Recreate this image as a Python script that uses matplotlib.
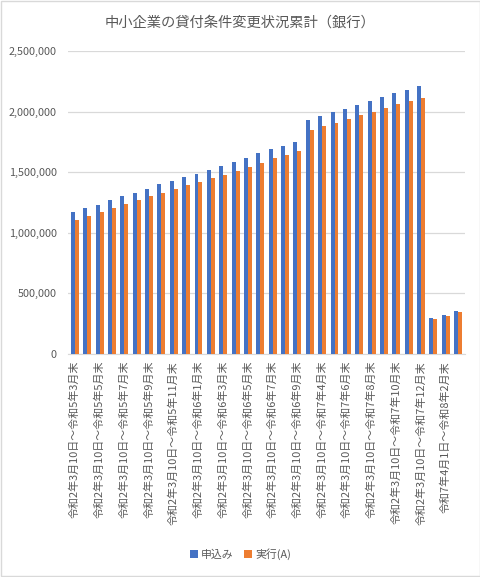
import matplotlib
matplotlib.use("Agg")
import matplotlib.pyplot as plt
import numpy as np
from matplotlib.patches import Rectangle
from matplotlib.ticker import FuncFormatter

plt.rcParams['font.family'] = ['Noto Sans CJK JP', 'DejaVu Sans']

# categories (cumulative periods)
pre = "令和2年3月10日～"
months = (["令和5年%d月末" % m for m in range(3, 13)]
          + ["令和6年%d月末" % m for m in range(1, 10)]
          + ["令和7年%d月末" % m for m in range(3, 13)])
categories = [pre + m for m in months]
categories += ["令和7年4月1日～令和8年1月末",
               "令和7年4月1日～令和8年2月末",
               "令和7年4月1日～令和8年3月末"]

# 申込み
applied = [1169000, 1205000, 1232000, 1270000, 1300000, 1330000, 1361000, 1399000,
           1426000, 1462000, 1489000, 1519000, 1552000, 1582000, 1620000, 1659000,
           1692000, 1720000, 1750000, 1928000, 1961000, 1994000, 2025000, 2057000,
           2088000, 2121000, 2151000, 2178000, 2211000, 297000, 324000, 357000]
# 実行(A)
executed = [1109000, 1142000, 1175000, 1205000, 1238000, 1268000, 1300000, 1330000,
            1363000, 1396000, 1421000, 1453000, 1478000, 1514000, 1544000, 1578000,
            1618000, 1645000, 1678000, 1851000, 1882000, 1909000, 1939000, 1972000,
            2000000, 2030000, 2063000, 2088000, 2115000, 286000, 313000, 343000]

blue = "#4472C4"
orange = "#ED7D31"
txt = "#595959"

fig = plt.figure(figsize=(4.81, 5.77), dpi=100)
ax = fig.add_axes([0.1414, 0.3865, 0.8253, 0.5251])

x = np.arange(len(categories))
w = 0.32
ax.bar(x - w / 2, applied, w, color=blue, label="申込み", zorder=3)
ax.bar(x + w / 2, executed, w, color=orange, label="実行(A)", zorder=3)

ax.set_ylim(0, 2500000)
ax.set_xlim(-0.55, len(categories) - 0.45)
ax.set_yticks(np.arange(0, 2500001, 500000))
ax.yaxis.set_major_formatter(FuncFormatter(lambda v, p: f"{int(v):,}"))
ax.grid(axis='y', color="#D9D9D9", linewidth=0.9, zorder=0)
ax.set_xticks(x[::2])
ax.set_xticklabels(categories[::2], rotation=90, fontsize=7.9, color=txt)
ax.tick_params(axis='y', labelsize=7.8, colors=txt, length=0, pad=8)
ax.tick_params(axis='x', length=0, pad=5)
for s in ["top", "right", "left"]:
    ax.spines[s].set_visible(False)
ax.spines["bottom"].set_color("#D9D9D9")

fig.text(0.5, 0.96, "中小企業の貸付条件変更状況累計（銀行）", ha='center', va='center',
         fontsize=10.3, color=txt)

fig.legend(loc='center', bbox_to_anchor=(0.5, 0.04), ncol=2, frameon=False,
           fontsize=7.8, labelcolor=txt, handlelength=0.7, handleheight=0.7,
           handletextpad=0.3, columnspacing=1.0)

fig.patches.append(Rectangle((0.002, 0.002), 0.996, 0.996, transform=fig.transFigure,
                             fill=False, edgecolor="#D9D9D9", linewidth=1))

fig.savefig("out.png", dpi=100)
